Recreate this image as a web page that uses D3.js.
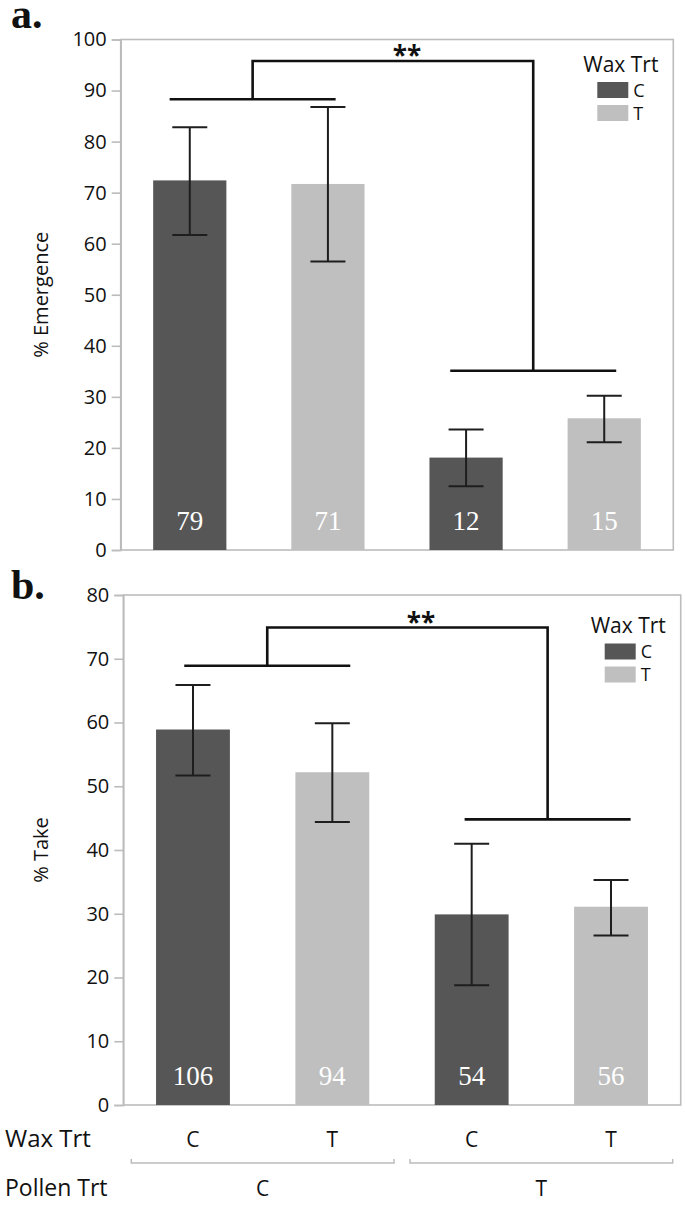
<!DOCTYPE html>
<html><head><meta charset="utf-8">
<script src="https://cdn.jsdelivr.net/npm/d3@7"></script>
<style>
html,body{margin:0;padding:0;background:#fff;}
svg{display:block;}
</style></head>
<body>
<svg id="chart" width="685" height="1220"></svg>
<script>
// ---- data ----
const waxTrt = ["C", "T", "C", "T"];
const pollenTrt = ["C", "C", "T", "T"];
const pollenGroups = ["C", "T"];

const emergence = [72.4, 71.7, 18.1, 25.8];
const emergenceLo = [61.7, 56.5, 12.5, 21.1];
const emergenceHi = [82.8, 86.8, 23.6, 30.2];
const emergenceN = [79, 71, 12, 15];
const emergenceTicks = [0, 10, 20, 30, 40, 50, 60, 70, 80, 90, 100];
// bracket levels: [left group level, right group level, top level]
const emergenceBracket = [88.3, 35.1, 95.8];

const take = [58.9, 52.2, 29.9, 31.1];
const takeLo = [51.7, 44.4, 18.8, 26.6];
const takeHi = [65.9, 59.9, 41.0, 35.3];
const takeN = [106, 94, 54, 56];
const takeTicks = [0, 10, 20, 30, 40, 50, 60, 70, 80];
const takeBracket = [68.9, 44.8, 74.9];

const legendTitle = "Wax Trt";
const sigLabel = "**";

// ---- drawing ----
const SANS = "'Open Sans',sans-serif";
const SERIF = "'Liberation Serif','Times New Roman',serif";
const svg = d3.select("#chart");
const DARK = "#565656", LIGHT = "#bfbfbf", FRAME = "#bcbcbc";
const colour = d3.scaleOrdinal().domain(["C", "T"]).range([DARK, LIGHT]);
const idx = d3.range(waxTrt.length);

function panel(o) {
  const g = svg.append("g");
  const x = d3.scaleBand().domain(idx).range([o.left, o.right]).paddingInner(0.47).paddingOuter(0.235);
  const step = (o.right - o.left) / idx.length;
  const xc = d3.scaleLinear().domain([0, 1]).range([o.left + step / 2, o.left + step * 1.5]);
  const y = d3.scaleLinear().domain([0, o.max]).range([o.bottom, o.top]);

  // frame
  g.append("rect").attr("x", o.left).attr("y", o.top).attr("width", o.right - o.left)
    .attr("height", o.bottom - o.top).attr("fill", "none").attr("stroke", FRAME).attr("stroke-width", 1.6);

  // y axis
  const ax = g.append("g").attr("transform", `translate(${o.left},0)`)
    .call(d3.axisLeft(y).tickValues(o.ticks).tickSize(9).tickPadding(5).tickFormat(d3.format("d")));
  ax.select(".domain").attr("stroke", FRAME).attr("stroke-width", 1.6);
  ax.selectAll(".tick line").attr("stroke", FRAME).attr("stroke-width", 1.6);
  ax.selectAll(".tick text").style("font-family", SANS).style("font-size", "20px").attr("fill", "#111");

  // y title
  g.append("text").attr("transform", `translate(${o.titleX},${(o.top + o.bottom) / 2}) rotate(-90)`)
    .attr("text-anchor", "middle").style("font-family", SANS).style("font-size", "20px").attr("fill", "#111").text(o.title);

  // bars
  g.selectAll("rect.bar").data(idx).join("rect").attr("class", "bar")
    .attr("x", i => x(i)).attr("width", x.bandwidth())
    .attr("y", i => y(o.vals[i])).attr("height", i => y(0) - y(o.vals[i]))
    .attr("fill", i => colour(waxTrt[i]));

  // error bars
  const eb = g.append("g").attr("stroke", "#1e1e1e").attr("stroke-width", 2);
  idx.forEach(i => {
    const cx = x(i) + x.bandwidth() / 2, hw = 17.5;
    eb.append("line").attr("x1", cx).attr("x2", cx).attr("y1", y(o.hi[i])).attr("y2", y(o.lo[i]));
    eb.append("line").attr("x1", cx - hw).attr("x2", cx + hw).attr("y1", y(o.hi[i])).attr("y2", y(o.hi[i]));
    eb.append("line").attr("x1", cx - hw).attr("x2", cx + hw).attr("y1", y(o.lo[i])).attr("y2", y(o.lo[i]));
  });

  // n labels
  g.selectAll("text.n").data(idx).join("text").attr("class", "n")
    .attr("x", i => x(i) + x.bandwidth() / 2).attr("y", y(0) - 20)
    .attr("text-anchor", "middle").attr("fill", "#fff")
    .style("font-family", SERIF).style("font-size", "27px")
    .text(i => o.n[i]);

  // significance bracket
  const [lv, rv, tv] = o.bracket;
  const lx = xc(o.bx[0]), rx = xc(o.bx[1]), hw = o.bw;
  const br = g.append("g").attr("stroke", "#111").attr("stroke-width", 2.6).attr("fill", "none");
  br.append("line").attr("x1", lx - hw).attr("x2", lx + hw).attr("y1", y(lv)).attr("y2", y(lv));
  br.append("line").attr("x1", rx - hw).attr("x2", rx + hw).attr("y1", y(rv)).attr("y2", y(rv));
  br.append("path").attr("d", `M${lx},${y(lv)}V${y(tv)}H${rx}V${y(rv)}`);
  g.append("text").attr("x", xc(o.starX)).attr("y", y(tv) + 4).attr("text-anchor", "middle")
    .style("font-family", SANS).style("font-size", "26px").style("font-weight", 700).attr("fill", "#111").text(sigLabel);

  // legend
  const lg = g.append("g").attr("transform", `translate(${o.right - 90},${o.top + o.legDy})`);
  lg.append("text").attr("x", 0).attr("y", 0).style("font-family", SANS).style("font-size", "21px").attr("fill", "#111").text(legendTitle);
  colour.domain().forEach((k, j) => {
    lg.append("rect").attr("x", 14).attr("y", 10.5 + j * 23).attr("width", 31).attr("height", 16).attr("fill", colour(k));
    lg.append("text").attr("x", 50).attr("y", 25 + j * 23).style("font-family", SANS).style("font-size", "18px").attr("fill", "#111").text(k);
  });

  // panel letter
  svg.append("text").attr("x", 11).attr("y", o.letterY).style("font-family", SERIF)
    .style("font-weight", 700).style("font-size", "42px").attr("fill", "#111").text(o.letter);

  return {x, y, step};
}

panel({left: 120.7, right: 673.3, top: 39.5, bottom: 550, max: 100, ticks: emergenceTicks,
  vals: emergence, lo: emergenceLo, hi: emergenceHi, n: emergenceN, title: "% Emergence", titleX: 48,
  bracket: emergenceBracket, bx: [0.455, 2.486], bw: 83, starX: 1.572, legDy: 32, letter: "a.", letterY: 28});

const pb = panel({left: 123.3, right: 680.7, top: 595, bottom: 1105, max: 80, ticks: takeTicks,
  vals: take, lo: takeLo, hi: takeHi, n: takeN, title: "% Take", titleX: 48,
  bracket: takeBracket, bx: [0.533, 2.545], bw: 83, starX: 1.636, legDy: 38, letter: "b.", letterY: 599});

// bottom categorical labels
const bx = pb.x;
svg.selectAll("text.wax").data(idx).join("text").attr("class", "wax")
  .attr("x", i => bx(i) + bx.bandwidth() / 2).attr("y", 1147).attr("text-anchor", "middle")
  .style("font-family", SANS).style("font-size", "21px").attr("fill", "#111").text(i => waxTrt[i]);
svg.append("text").attr("x", 5).attr("y", 1147).style("font-family", SANS).style("font-size", "24px").attr("fill", "#111").text("Wax Trt");
svg.append("text").attr("x", 5).attr("y", 1196).style("font-family", SANS).style("font-size", "23px").attr("fill", "#111").text("Pollen Trt");
const gl = svg.append("g").attr("stroke", FRAME).attr("stroke-width", 1.5).attr("fill", "none");
pollenGroups.forEach((p, j) => {
  const members = idx.filter(i => pollenTrt[i] === p);
  const x0 = 123.3 + members[0] * pb.step + 8, x1 = 123.3 + (members[members.length - 1] + 1) * pb.step - 8;
  gl.append("path").attr("d", `M${x0},${1159}V${1163}H${x1}V${1159}`);
  svg.append("text").attr("x", (x0 + x1) / 2).attr("y", 1196).attr("text-anchor", "middle")
    .style("font-family", SANS).style("font-size", "21px").attr("fill", "#111").text(p);
});
</script>
</body></html>
